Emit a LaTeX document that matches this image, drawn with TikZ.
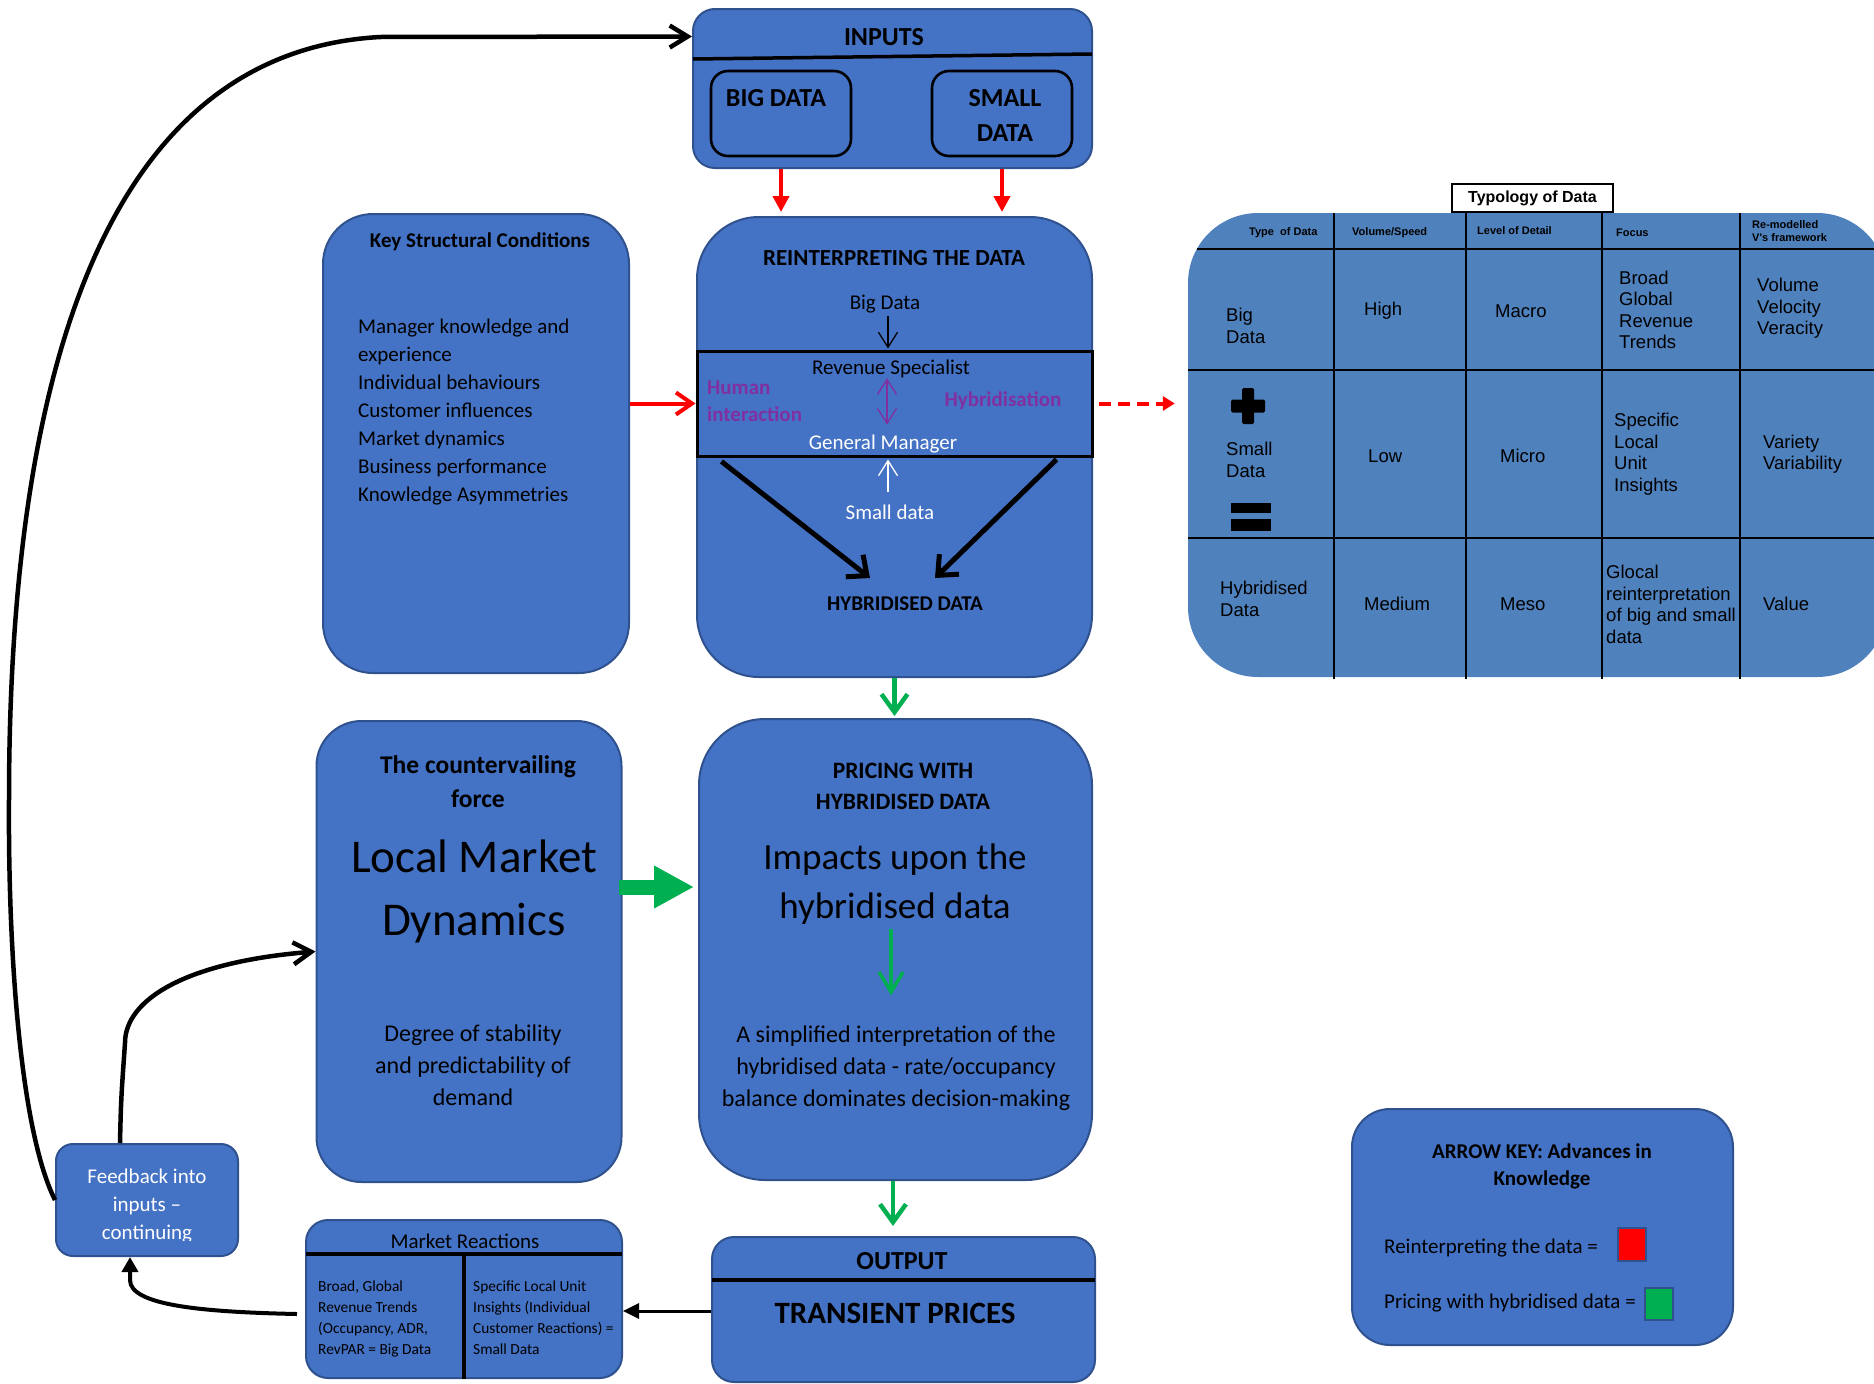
\documentclass[tikz,border=0pt]{standalone}
\usepackage{fontspec}
\setmainfont{Carlito}
\newfontfamily\tablefont{Liberation Sans}
\usetikzlibrary{arrows.meta,calc}

\definecolor{boxblue}{RGB}{68,114,196}
\definecolor{boxedge}{RGB}{47,82,143}
\definecolor{tableblue}{RGB}{79,129,189}
\definecolor{keyred}{RGB}{255,0,0}
\definecolor{keygreen}{RGB}{0,176,80}
\definecolor{hybpurple}{RGB}{128,48,160}

\tikzset{
  panel/.style={draw=boxedge, fill=boxblue, line width=2pt, inner sep=0pt, rounded corners=#1},
  subpanel/.style={draw=black, fill=boxblue, line width=2.6pt, inner sep=0pt, rounded corners=#1},
  txt/.style={inner sep=0pt, align=center},
  ltxt/.style={inner sep=0pt, align=left, anchor=west},
  rule/.style={draw=black, line width=4pt},
  tline/.style={draw=black, line width=2.2pt},
  redarrow/.style={draw=keyred, line width=4pt, -{Triangle[length=16pt,width=16pt]}},
  redbarb/.style={draw=keyred, line width=4pt, -{Straight Barb[length=16pt,width=22pt]}},
  greenbarb/.style={draw=keygreen, line width=4.5pt, -{Straight Barb[length=18pt,width=26pt]}},
  thinbarb/.style={line width=1.3pt, -{Straight Barb[length=15pt,width=19pt]}},
  thickbarb/.style={draw=black, line width=5pt, -{Straight Barb[length=16pt,width=28pt]}},
  loopline/.style={draw=black, line width=4.5pt, -{Straight Barb[length=18pt,width=22pt]}},
  fillhead/.style={draw=black, line width=4pt, -{Triangle[length=15pt,width=16pt]}},
  swatch/.style={draw=boxedge, line width=2.5pt, inner sep=0pt},
}

\begin{document}
\begin{tikzpicture}[x=1pt,y=-1pt]
\useasboundingbox (0,0) rectangle (1874,1384);
\clip (0,0) rectangle (1874,1384);

% ---------- INPUTS ----------
\node[panel=22, minimum width=399pt, minimum height=159pt] (inputs) at (892.5,88.5) {};
\draw[line width=3.5pt] ($(inputs.north west)+(1,51)$) -- ($(inputs.north east)+(-1,46)$);
\node[txt, font=\bfseries\fontsize{26}{32}\selectfont] (inputst) at (884,37) {INPUTS};
\node[subpanel=17, minimum width=140pt, minimum height=85pt] (bigd) at (781,113.5) {};
\node[subpanel=17, minimum width=140pt, minimum height=85pt] (smalld) at (1002,113.5) {};
\node[txt, font=\bfseries\fontsize{26}{35}\selectfont] (bigdt) at (776,98) {BIG DATA};
\node[txt, font=\bfseries\fontsize{26}{35}\selectfont] (smalldt) at (1005,115.5) {SMALL\\DATA};

% ---------- KEY STRUCTURAL CONDITIONS ----------
\node[panel=50, minimum width=306pt, minimum height=459pt] (keysc) at (476,443.5) {};
\node[txt, font=\bfseries\fontsize{21}{26}\selectfont] (keyt) at (480,242) {Key Structural Conditions};
\node[ltxt, font=\fontsize{21}{28}\selectfont] (keyl) at (358,412)
  {Manager knowledge and\\experience\\Individual behaviours\\Customer influences\\Market dynamics\\Business performance\\Knowledge Asymmetries};

% ---------- REINTERPRETING THE DATA ----------
\node[panel=62, minimum width=395pt, minimum height=460pt] (reint) at (894.5,447) {};
\node[draw=black, line width=3pt, minimum width=395pt, minimum height=105pt, inner sep=0pt] (hybrect) at (894.5,403.5) {};
\node[txt, font=\bfseries\fontsize{23}{28}\selectfont] (reintt) at (894,258) {REINTERPRETING THE DATA};
\node[txt, font=\fontsize{21}{26}\selectfont] (bigdl) at (885,304) {Big Data};
\node[txt, font=\fontsize{21}{26}\selectfont] (revspec) at (891,369) {Revenue Specialist};
\node[txt, text=white, font=\fontsize{21}{26}\selectfont] (genman) at (883,444) {General Manager};
\node[ltxt, text=hybpurple, font=\bfseries\fontsize{21}{27}\selectfont] (human) at (707,401) {Human\\interaction};
\node[txt, text=hybpurple, font=\bfseries\fontsize{21}{26}\selectfont] (hybrid) at (1003,401) {Hybridisation};
\node[txt, text=white, font=\fontsize{21}{26}\selectfont] (smalldl) at (890,512) {Small data};
\node[txt, font=\bfseries\fontsize{21}{26}\selectfont] (hybd) at (905,604) {HYBRIDISED DATA};

\draw[thinbarb, black] ($(bigdl.south)+(3,3)$) -- ($(hybrect.north -| bigdl)+(3,-1)$);
\draw[thinbarb, hybpurple, {Straight Barb[length=15pt,width=19pt]}-{Straight Barb[length=15pt,width=19pt]}]
  ($(revspec.south)+(-4,0)$) -- ($(genman.north)+(4,-10)$);
\draw[thinbarb, white] ($(smalldl.north)+(-2,-12)$) -- ($(hybrect.south -| smalldl)+(-2,2)$);
\draw[thickbarb] ($(hybrect.south west)+(26,4)$) -- ($(hybd.center)+(-35,-26)$);
\draw[thickbarb] ($(hybrect.south east)+(-37,2)$) -- ($(hybd.center)+(30,-26)$);

% ---------- TYPOLOGY OF DATA ----------
\node[fill=tableblue, rounded corners=70pt, minimum width=699pt, minimum height=464pt, inner sep=0pt] (tbl) at (1537.5,445) {};
\draw[tline] (1197,249) -- (1880,249);
\draw[tline] (tbl.west |- 0,370) -- (tbl.east |- 0,370);
\draw[tline] (tbl.west |- 0,538) -- (tbl.east |- 0,538);
\foreach \cx in {1334,1466,1602,1740} \draw[tline] (\cx,213) -- (\cx,679);
\node[draw=black, fill=white, line width=1.5pt, minimum width=161pt, minimum height=28pt, inner sep=0pt,
      font=\tablefont\bfseries\fontsize{16}{19}\selectfont] (typo) at (1532.5,198) {Typology of Data};

\begin{scope}[every node/.style={ltxt, font=\tablefont\bfseries\fontsize{11}{13}\selectfont}]
  \node (h1) at (1249,233) {Type~ of Data};
  \node (h2) at (1352,233) {Volume/Speed};
  \node (h3) at (1477,231) {Level of Detail};
  \node (h4) at (1616,233) {Focus};
  \node (h5) at (1752,231.5) {Re-modelled\\V's framework};
\end{scope}

\begin{scope}[every node/.style={ltxt, font=\tablefont\fontsize{18.5}{21.5}\selectfont}]
  \node (r1a) at (1226,326) {Big\\Data};
  \node (r1b) at (1364,311) {High};
  \node (r1c) at (1495,311) {Macro};
  \node (r1d) at (1619,310) {Broad\\Global\\Revenue\\Trends};
  \node (r1e) at (1757,308.5) {Volume\\Velocity\\Veracity};
  \node (r2a) at (1226,460) {Small\\Data};
  \node (r2b) at (1368,456) {Low};
  \node (r2c) at (1500,456) {Micro};
  \node (r2d) at (1614,454) {Specific\\Local\\Unit\\Insights};
  \node (r2e) at (1763,454) {Variety\\Variability};
  \node (r3a) at (1220,599) {Hybridised\\Data};
  \node (r3b) at (1364,604) {Medium};
  \node (r3c) at (1500,604) {Meso};
  \node (r3d) at (1606,604.5) {Glocal\\reinterpretation\\of big and small\\data};
  \node (r3e) at (1763,604) {Value};
\end{scope}
% plus and equals signs
\fill[black, rounded corners=1.5pt] (1242,388) rectangle (1254,424);
\fill[black, rounded corners=1.5pt] (1231,399.5) rectangle (1265,412.5);
\fill[black] (1231,503) rectangle (1271,513);
\fill[black] (1231,519) rectangle (1271,531);

% ---------- LOCAL MARKET DYNAMICS ----------
\node[panel=45, minimum width=305pt, minimum height=461pt] (lmd) at (469,951.5) {};
\node[txt, font=\bfseries\fontsize{25.5}{34}\selectfont] (lmdt) at (478,782) {The countervailing\\force};
\node[txt, font=\fontsize{47}{63}\selectfont] (lmdl) at (474,891) {Local Market\\Dynamics};
\node[txt, font=\fontsize{24}{32}\selectfont] (lmdd) at (473,1065.5) {Degree of stability\\and predictability of\\demand};

% ---------- PRICING WITH HYBRIDISED DATA ----------
\node[panel=66, minimum width=393pt, minimum height=461pt] (pricing) at (895.5,949.5) {};
\node[txt, font=\bfseries\fontsize{23.5}{31}\selectfont] (pricet) at (903,786.5) {PRICING WITH\\HYBRIDISED DATA};
\node[txt, font=\fontsize{37}{49}\selectfont] (impacts) at (895,884.5) {Impacts upon the\\hybridised data};
\node[txt, font=\fontsize{24}{32}\selectfont] (simpl) at (896,1068) {A simplified interpretation of the\\hybridised data - rate/occupancy\\balance dominates decision-making};
\draw[keygreen, line width=3.5pt, -{Straight Barb[length=20pt,width=24pt]}] (impacts.south -| 891,0) ++(0,4) -- ($(simpl.north -| 891,0)+(0,-30)$);

% ---------- OUTPUT ----------
\node[panel=22, minimum width=383pt, minimum height=145pt] (outp) at (903.5,1309.5) {};
\draw[rule] ($(outp.north west)+(1,44)$) -- ($(outp.north east)+(-1,44)$);
\node[txt, font=\bfseries\fontsize{26}{32}\selectfont] (outpt) at (902,1261) {OUTPUT};
\node[txt, font=\bfseries\fontsize{31}{38}\selectfont] (transient) at (895,1313) {TRANSIENT PRICES};

% ---------- MARKET REACTIONS ----------
\node[panel=22, minimum width=316pt, minimum height=158pt] (mkt) at (464,1299) {};
\draw[rule] ($(mkt.north west)+(1,35)$) -- ($(mkt.north east)+(-1,35)$);
\draw[rule] ($(mkt.north)+(0,35)$) -- (mkt.south);
\node[txt, font=\fontsize{21}{26}\selectfont] (mktt) at (465,1241) {Market Reactions};
\node[ltxt, font=\fontsize{15.4}{21}\selectfont] (mktl) at (318,1318.5) {Broad, Global\\Revenue Trends\\(Occupancy, ADR,\\RevPAR = Big Data};
\node[ltxt, font=\fontsize{15.4}{21}\selectfont] (mktr) at (473,1318) {Specific Local Unit\\Insights (Individual\\Customer Reactions) =\\Small Data};

% ---------- FEEDBACK ----------
\node[panel=17, minimum width=182pt, minimum height=112pt] (fb) at (147,1200) {};
\begin{scope}
  \clip ($(fb.north west)$) rectangle ($(fb.south east)+(0,-17)$);
  \node[txt, text=white, font=\fontsize{21}{28}\selectfont] (fbt) at (147,1206) {Feedback into\\inputs –\\continuing};
\end{scope}

% ---------- ARROW KEY ----------
\node[panel=38, minimum width=381pt, minimum height=236pt] (keybox) at (1542.5,1227) {};
\node[txt, font=\bfseries\fontsize{21}{27}\selectfont] (keyt2) at (1542,1166.5) {ARROW KEY: Advances in\\Knowledge};
\node[ltxt, font=\fontsize{21}{26}\selectfont] (key1) at (1384,1248) {Reinterpreting the data =};
\node[ltxt, font=\fontsize{21}{26}\selectfont] (key2) at (1384,1303) {Pricing with hybridised data =};
\node[swatch, fill=keyred, minimum width=28pt, minimum height=33pt] (sw1) at (1632,1244.5) {};
\node[swatch, fill=keygreen, minimum width=28pt, minimum height=32pt] (sw2) at (1659,1304) {};

% ---------- CONNECTORS ----------
\draw[redarrow, shorten >=4pt] (inputs.south -| bigd) -- (reint.north -| bigd);
\draw[redarrow, shorten >=4pt] (inputs.south -| smalld) -- (reint.north -| smalld);
\draw[redbarb] (keysc.east |- hybrect.west) -- (hybrect.west);
\draw[keyred, line width=4pt, dash pattern=on 12pt off 7pt, shorten <=5pt, shorten >=13pt,
      -{Triangle[length=12pt,width=14pt]}] (hybrect.east) -- (tbl.west |- hybrect.east);
\draw[greenbarb, shorten >=2pt] (reint.south) -- (reint.south |- pricing.north);
\draw[keygreen, line width=15pt, shorten <=-4pt, shorten >=4pt, -{Triangle[length=40pt,width=40pt]}]
  (lmd.east |- 0,887) -- (pricing.west |- 0,887);
\draw[greenbarb, shorten >=10pt] (pricing.south -| 893,0) -- (outp.north -| 893,0);
\draw[line width=3pt, -{Triangle[length=16pt,width=15pt]}] (outp.west |- 0,1311) -- (mkt.east |- 0,1311);
\draw[fillhead] ($(mkt.west)+(-8,15)$) .. controls (200,1312) and (130,1305) .. (130,1280) -- ($(fb.south)+(-17,0)$);
\draw[loopline] ($(fb.north)+(-27,0)$) .. controls (121,1100) .. (125,1043)
  .. controls (125,1000) and (185,962) .. (lmd.west);
\draw[loopline] (fb.west) .. controls (20,1130) and (8,950) .. (9,800)
  .. controls (9,300) and (140,50) .. (380,37) -- ($(inputs.west)+(0,-52)$);
\end{tikzpicture}
\end{document}
